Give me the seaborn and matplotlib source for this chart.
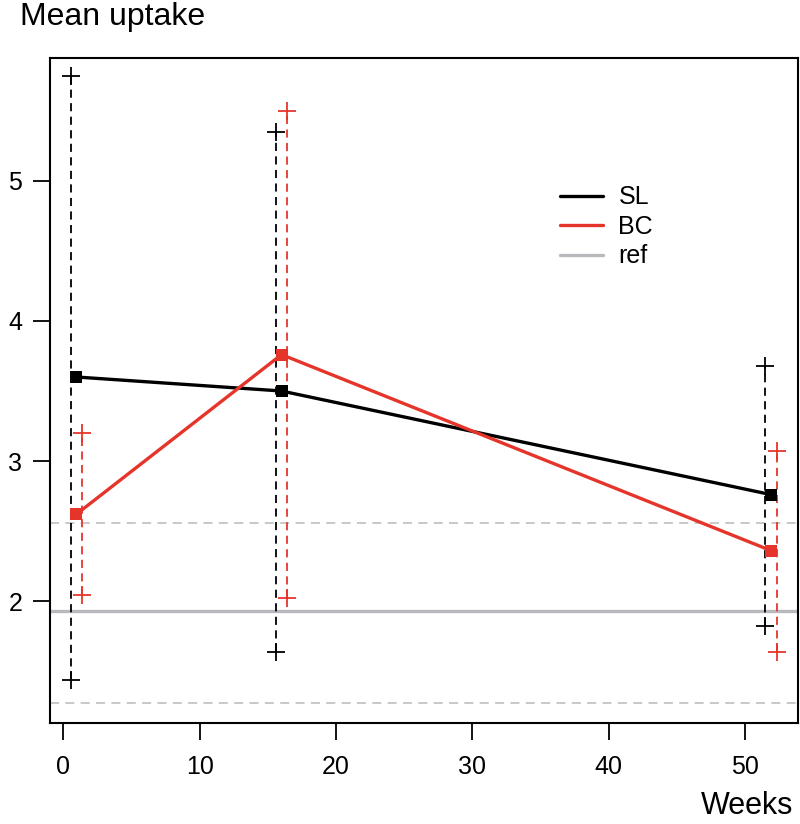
import matplotlib
matplotlib.use("Agg")
import matplotlib.pyplot as plt
import seaborn as sns
import pandas as pd
from matplotlib.lines import Line2D

# values
weeks = [0.95, 16.0, 51.9]
bar_shift = 0.42

sl_mean = [3.60, 3.50, 2.76]
sl_lo = [1.44, 1.64, 1.82]
sl_hi = [5.75, 5.35, 3.68]

bc_mean = [2.62, 3.76, 2.36]
bc_lo = [2.045, 2.02, 1.64]
bc_hi = [3.20, 5.50, 3.07]

ref_mean = 1.93
ref_lo = 1.275
ref_hi = 2.554

x_ticks = [0, 10, 20, 30, 40, 50]
y_ticks = [2, 3, 4, 5]

red = "#e5352b"
grey = "#b9b9bd"

sns.set_theme(style="white")
plt.rcParams["font.family"] = ["Liberation Sans", "DejaVu Sans"]
plt.rcParams["text.color"] = "black"
plt.rcParams["xtick.color"] = "black"
plt.rcParams["ytick.color"] = "black"

df = pd.DataFrame({
    "week": weeks * 2,
    "mean": sl_mean + bc_mean,
    "group": ["SL"] * 3 + ["BC"] * 3,
})

fig = plt.figure(figsize=(8, 8.24), dpi=100)
ax = fig.add_axes([0.0625, 0.123, 0.9355, 0.807])

# reference band
ax.axhline(ref_hi, color="#c4c4c4", lw=1.3, ls=(0, (5, 3.5)), zorder=1)
ax.axhline(ref_lo, color="#c4c4c4", lw=1.3, ls=(0, (5, 3.5)), zorder=1)
ax.axhline(ref_mean, color=grey, lw=2.4, zorder=1)

# dashed ranges with + caps
sl_x = [w - bar_shift for w in weeks]
bc_x = [w + bar_shift for w in weeks]
ax.vlines(sl_x, sl_lo, sl_hi, colors="black", lw=1.3, linestyles=(0, (4.5, 3)), zorder=2)
ax.vlines(bc_x, bc_lo, bc_hi, colors=red, lw=1.3, linestyles=(0, (4.5, 3)), zorder=2)
ax.plot(sl_x + sl_x, sl_lo + sl_hi, ls="none", marker="+", ms=13, mew=1.3, color="black", zorder=3)
ax.plot(bc_x + bc_x, bc_lo + bc_hi, ls="none", marker="+", ms=13, mew=1.3, color=red, zorder=3)

sns.lineplot(
    data=df, x="week", y="mean", hue="group",
    palette={"SL": "black", "BC": red},
    hue_order=["SL", "BC"],
    style="group", markers={"SL": "s", "BC": "s"}, dashes=False,
    markersize=8, markeredgewidth=0, linewidth=2.4,
    ax=ax, legend=False, zorder=4,
)

handles = [
    Line2D([], [], color="black", lw=2.4),
    Line2D([], [], color=red, lw=2.4),
    Line2D([], [], color=grey, lw=2.4),
]
ax.legend(handles, ["SL", "BC", "ref"], loc="upper left",
          bbox_to_anchor=(0.681, 0.808), frameon=False, fontsize=18,
          handlelength=1.75, handletextpad=0.6, labelspacing=0.22,
          borderpad=0, borderaxespad=0)

ax.set_xlim(-0.98, 53.9)
ax.set_ylim(1.132, 5.88)
ax.set_xticks(x_ticks)
ax.set_yticks(y_ticks)
ax.tick_params(axis="both", direction="out", length=12, width=1.3,
               labelsize=18, color="black", bottom=True, left=True)
ax.tick_params(axis="x", pad=11)
ax.tick_params(axis="y", pad=8)
ax.set_xlabel("")
ax.set_ylabel("")
for s in ax.spines.values():
    s.set_color("black")
    s.set_linewidth(1.5)

fig.text(0.025, 0.997, "Mean uptake", fontsize=23, ha="left", va="top")
fig.text(0.992, 0.004, "Weeks", fontsize=22, ha="right", va="bottom")

fig.savefig("out.png", dpi=100)
